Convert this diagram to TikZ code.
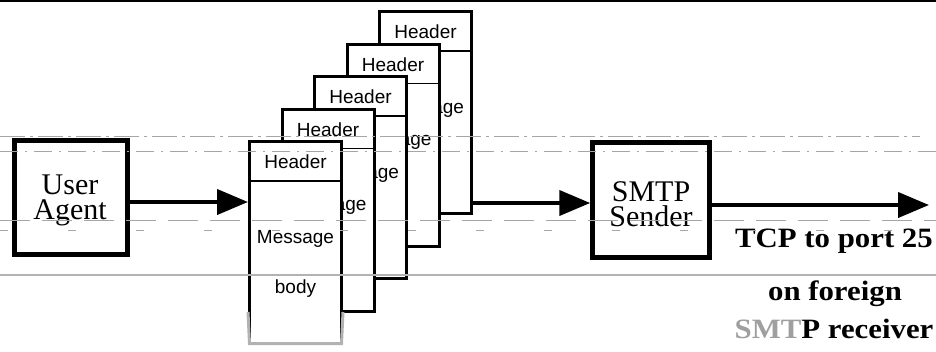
\documentclass[tikz,border=0pt]{standalone}
\usepackage{fontspec}
\setmainfont{Liberation Serif}
\newfontfamily\msgsans{Liberation Sans}
\newfontfamily\widebold[FakeStretch=1.1]{Liberation Serif}
\usetikzlibrary{arrows.meta}
\tikzset{
  uabox/.style={draw, line width=5pt, minimum width=113pt, minimum height=114pt, inner sep=0pt},
  msgbox/.style={draw, fill=white, line width=3pt, minimum width=92pt, minimum height=202pt, inner sep=0pt},
  sepline/.style={line width=1.5pt},
  serifbig/.style={font=\fontsize{30}{25}\selectfont, inner sep=0pt, align=center},
  sanslbl/.style={font=\msgsans\fontsize{19}{22}\selectfont, inner sep=0pt, anchor=base},
  tcplbl/.style={font=\widebold\bfseries\fontsize{28}{30}\selectfont, inner sep=0pt, anchor=base},
  arr/.style={line width=4pt, -{Triangle[length=31pt,width=25pt]}},
  scanline/.style={gray!70, line width=0.8pt},
}
\begin{document}
\begin{tikzpicture}[x=1pt, y=-1pt]
\useasboundingbox (0,0) rectangle (936,351);
\fill[white] (0,0) rectangle (936,351);
% top border
\draw[line width=2.5pt] (0,1) -- (936,1);

% user agent
\node[uabox] (ua) at (71,197.5) {};
\node[serifbig] (uatext) at (70,200.5) {User\\Agent};

% message stack, back to front
\foreach \i in {4,3,2,1} {
  \node[msgbox] (box\i) at ({295.5+32.5*\i},{242.5-32.5*\i}) {};
  \draw[sepline] ([yshift=-41pt]box\i.north west) -- ([yshift=-41pt]box\i.north east);
  \node[sanslbl] (hdr\i) at ([yshift=-28.5pt]box\i.north) {Header};
  \node[sanslbl] (msg\i) at ([yshift=-103pt]box\i.north) {Message};
}
\node[msgbox] (box0) at (295.5,242.5) {};
\draw[sepline] ([yshift=-41pt]box0.north west) -- ([yshift=-41pt]box0.north east);
\node[sanslbl] (hdr0) at ([yshift=-28.5pt]box0.north) {Header};
\node[sanslbl] (msg0) at ([yshift=-103pt]box0.north) {Message};
\node[sanslbl] (body0) at ([yshift=-153pt]box0.north) {body};
\draw[line width=3pt, gray!60] ([yshift=33pt]box0.south west) -- ([yshift=1.5pt,xshift=1.5pt]box0.south west) -- ([yshift=1.5pt,xshift=-1.5pt]box0.south east) -- ([yshift=33pt]box0.south east);

% SMTP sender
\node[uabox, minimum width=116.5pt, minimum height=115pt] (smtp) at (651,200) {};
\node[serifbig] (smtext) at (651,204) {SMTP\\Sender};

% connectors
\coordinate (out) at (929,205);
\draw[arr] ([yshift=-4.5pt]ua.east) -- ([yshift=-4.5pt]ua.east -| box0.west);
\draw[arr] ([yshift=-3pt]smtp.west -| box4.east) -- ([yshift=-3pt]smtp.west);
\draw[arr] ([yshift=-5pt]smtp.east) -- (out);

% labels
\node[tcplbl] (tcp) at (834,247) {TCP to port 25};
\node[tcplbl] (foreign) at (835,300) {on foreign};
\node[tcplbl] (recv) at (834,338) {{\color{gray!75}SMT}P receiver};

% scan lines
\draw[scanline, dash pattern=on 25pt off 5pt on 3pt off 5pt] (0,136) -- (920,136);
\draw[scanline, dash pattern=on 18pt off 7pt on 2pt off 7pt] (0,151) -- (936,151);
\draw[scanline, dash pattern=on 30pt off 12pt] (0,220) -- (936,220);
\draw[scanline, dash pattern=on 8pt off 60pt] (0,230) -- (936,230);
\draw[gray!60, line width=1.2pt] (0,275) -- (936,275);
\end{tikzpicture}
\end{document}
